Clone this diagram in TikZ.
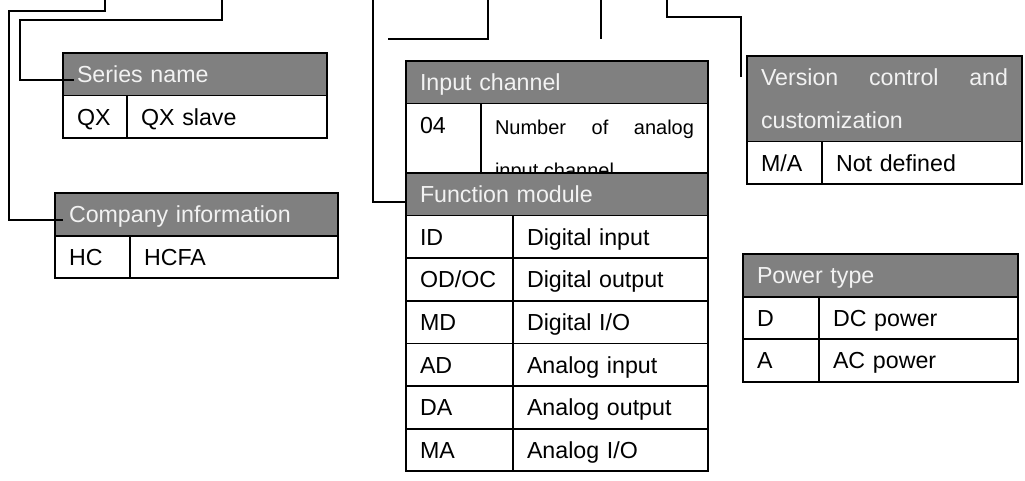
\documentclass[tikz,border=0pt]{standalone}
\usepackage{fontspec}
\setmainfont{Liberation Sans}
\usepackage{xcolor}
\usepackage{tikz}
\usetikzlibrary{positioning, calc}
\definecolor{hdrgray}{RGB}{128,128,128}
\definecolor{hdrtext}{RGB}{242,242,242}
\hyphenpenalty=10000
\exhyphenpenalty=10000

\begin{document}
\begin{tikzpicture}[
    x=1pt, y=1pt,
    font=\fontsize{23.2}{28}\selectfont,
    cell/.style={draw=black, line width=1.8pt, outer sep=0pt, anchor=north west, inner xsep=14pt, inner ysep=13pt, text height=16.6pt, text depth=0pt, align=left},
    head/.style={cell, fill=hdrgray, text=hdrtext},
    lead/.style={line width=1.8pt, black}
]
    \useasboundingbox (0,0) rectangle (1025,-481);
    % Series name
    \node[head, text width=236pt] (snh) at (63,-53) {Series name};
    \node[cell, text width=36pt] (sn1) at (snh.south west) {QX};
    \node[cell, text width=172pt] (sn2) at (sn1.north east) {QX slave};
    % Company information
    \node[head, text width=255pt] (ch) at (55,-193) {Company information};
    \node[cell, text width=47pt] (c1) at (ch.south west) {HC};
    \node[cell, text width=180pt] (c2) at (c1.north east) {HCFA};
    % Input channel (lower part hidden by function module)
    \node[head, text width=274pt] (ih) at (406,-61) {Input channel};
    \node[cell, text width=47pt, text depth=50pt] (i1) at (ih.south west) {04};
    \node[cell, text width=199pt, align=justify, text height=18pt, text depth=42.5pt, font=\fontsize{20}{42.5}\selectfont] (i2) at (i1.north east) {Number of analog input channel};
    % Function module
    \node[head, text width=274pt] (fh) at (406,-173) {Function module};
    \foreach \code/\desc [count=\i] in {ID/{Digital input}, {OD/OC}/{Digital output}, MD/{Digital I/O}, AD/{Analog input}, DA/{Analog output}, MA/{Analog I/O}} {
        \node[cell, text width=79pt] (fc\i) at ([yshift={-(\i-1)*42.6}]fh.south west) {\code};
        \node[cell, text width=167pt] (fd\i) at (fc\i.north east) {\desc};
    }
    % Version control and customization
    \node[head, text width=247pt, align=justify, text depth=43pt, font=\fontsize{23.2}{43}\selectfont] (vh) at (747,-56) {Version control and customization};
    \node[cell, text width=47pt] (v1) at (vh.south west) {M/A};
    \node[cell, text width=172pt] (v2) at (v1.north east) {Not defined};
    % Power type
    \node[head, text width=247pt] (ph) at (743,-254) {Power type};
    \node[cell, text width=48pt] (p1) at (ph.south west) {D};
    \node[cell, text width=171pt] (p2) at (p1.north east) {DC power};
    \node[cell, text width=48pt] (p3) at (p1.south west) {A};
    \node[cell, text width=171pt] (p4) at (p3.north east) {AC power};
    % leader lines from the code above
    \coordinate (tA) at (105,0);
    \coordinate (tB) at (222,0);
    \coordinate (tC) at (373,0);
    \coordinate (tD) at (488,0);
    \coordinate (tE) at (601,0);
    \coordinate (tF) at (667,0);
    \coordinate (eD) at (388,-39);
    \coordinate (eE) at (601,-39);
    \draw[lead] (tA) -- ++(0,-11) -| ([xshift=-46pt,yshift=-5.5pt]ch.west) -- ([xshift=8pt,yshift=-5.5pt]ch.west);
    \draw[lead] (tB) -- ++(0,-20) -| ([xshift=-43pt,yshift=-6pt]snh.west) -- ([xshift=11pt,yshift=-6pt]snh.west);
    \draw[lead] (tC) |- ([yshift=-7.5pt]fh.west);
    \draw[lead] (tD) |- (eD);
    \draw[lead] (tE) -- (eE);
    \draw[lead] (tF) -- ++(0,-17) -| ([xshift=-6pt,yshift=-21pt]vh.north west);
\end{tikzpicture}
\end{document}
